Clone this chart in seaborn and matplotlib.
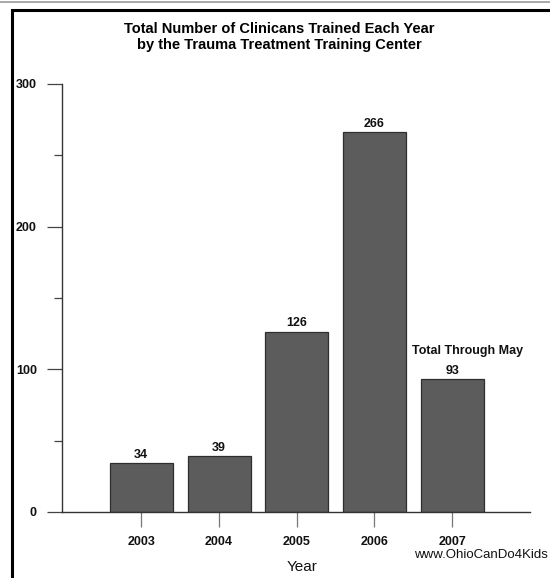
import pandas as pd
import seaborn as sns
import matplotlib.pyplot as plt
from matplotlib.patches import Rectangle
from matplotlib.ticker import MultipleLocator

# Chart data
years = ['2003', '2004', '2005', '2006', '2007']
trained = [34, 39, 126, 266, 93]
y_ticks = [0, 100, 200, 300]

df = pd.DataFrame({'Year': years, 'Clinicians': trained})

sns.set_style("white")
plt.rcParams['font.family'] = ['Liberation Sans', 'DejaVu Sans']
plt.rcParams['text.color'] = 'black'

fig = plt.figure(figsize=(5.5, 5.78), dpi=100)
ax = fig.add_axes([0.1127, 0.1142, 0.8509, 0.7405])

sns.barplot(data=df, x='Year', y='Clinicians', color='#5c5c5c',
            edgecolor='#2e2e2e', linewidth=0.9, width=0.81, saturation=1, ax=ax)

ax.set_xlim(-1.02, 5.0)
ax.set_ylim(0, 300)
ax.set_yticks(y_ticks)
ax.yaxis.set_minor_locator(MultipleLocator(50))

for s in ['top', 'right']:
    ax.spines[s].set_visible(False)
for s in ['left', 'bottom']:
    ax.spines[s].set_color('#333333')
    ax.spines[s].set_linewidth(1.0)

ax.tick_params(axis='y', which='major', direction='out', length=11, width=0.9,
               color='#444444', pad=7, labelsize=9, left=True)
ax.tick_params(axis='y', which='minor', direction='out', length=6, width=0.9,
               color='#444444', left=True)
ax.tick_params(axis='x', direction='out', length=11, width=0.9, color='#777777',
               pad=6, labelsize=9, bottom=True)
for lab in ax.get_xticklabels() + ax.get_yticklabels():
    lab.set_fontweight('bold')
    lab.set_color('#111111')

ax.set_xlabel('')
ax.set_ylabel('')

# value labels above bars
for i, v in enumerate(trained):
    ax.annotate(str(v), (i, v), xytext=(0, 2), textcoords='offset points',
                ha='center', va='bottom', fontsize=9, fontweight='bold', color='#111111')

ax.text(4.2, 113, 'Total Through May', ha='center', va='center',
        fontsize=9, fontweight='bold', color='#111111')

# titles and notes
fig.text(0.508, 0.950, 'Total Number of Clinicans Trained Each Year',
         ha='center', va='center', fontsize=10.5, fontweight='bold', color='black')
fig.text(0.508, 0.922, 'by the Trauma Treatment Training Center',
         ha='center', va='center', fontsize=10.5, fontweight='bold', color='black')
fig.text(0.549, 0.019, 'Year', ha='center', va='center', fontsize=11, color='#111111')
fig.text(0.997, 0.040, 'www.OhioCanDo4Kids', ha='right', va='center',
         fontsize=9.5, color='#111111')

# outer frame
fig.patches.append(Rectangle((0.021, -0.05), 1.2, 1.032, transform=fig.transFigure,
                             fill=False, edgecolor='black', linewidth=2.2))
fig.lines.append(plt.Line2D([0, 1], [0.997, 0.997], transform=fig.transFigure,
                            color='#999999', linewidth=1.2))

plt.savefig('out.png', dpi=100)
